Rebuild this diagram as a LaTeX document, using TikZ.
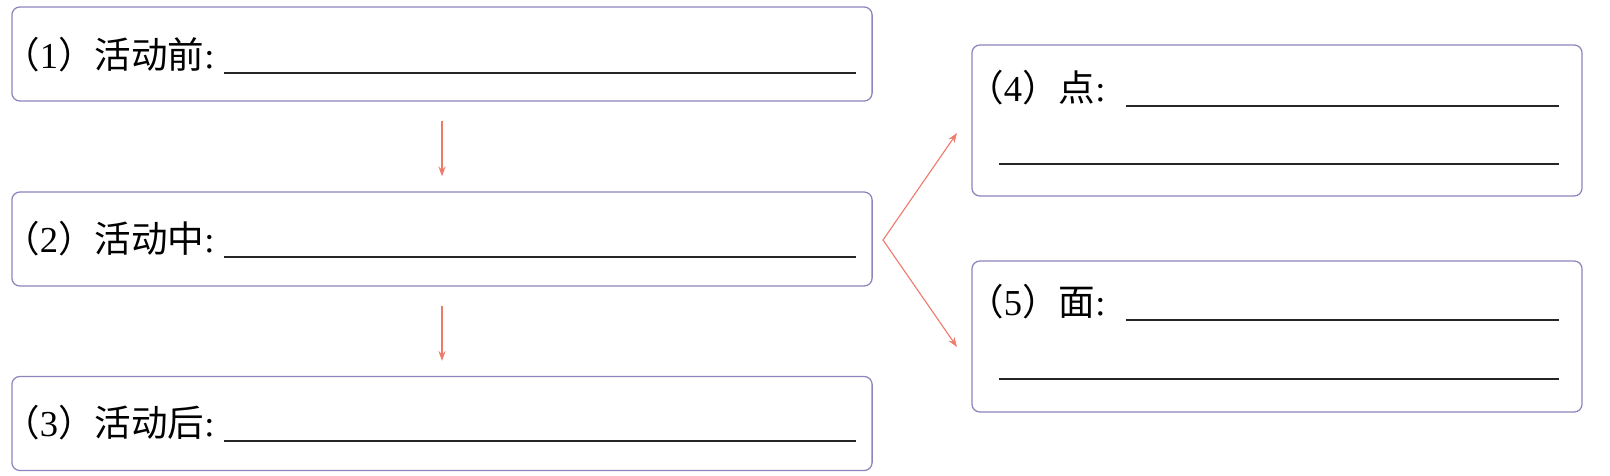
\documentclass[tikz,border=0pt]{standalone}
\usepackage{fontspec}
\setmainfont{Liberation Serif}
\newfontfamily\cjk{Noto Sans CJK SC}
\usetikzlibrary{arrows.meta,positioning,calc}
\definecolor{panelline}{HTML}{8C86BE}
\definecolor{flowred}{HTML}{EE7B6A}
\tikzset{panel/.style={draw=panelline, line width=0.9pt, rounded corners=0.2cm, inner sep=0pt},
  lbl/.style={anchor=base west, inner sep=0pt, font=\fontsize{26}{30}\selectfont},
  blank/.style={draw=black!85, line width=1.1pt},
  flow/.style={draw=flowred, line width=0.8pt}}

\begin{document}
\begin{tikzpicture}[x=0.025cm, y=-0.025cm, >={Stealth[length=7pt,width=5pt]}]
\useasboundingbox (0,0) rectangle (1610,475);
% left column
\node[panel, minimum width=21.5cm, minimum height=2.35cm] (b1) at (442,54) {};
\node[panel, minimum width=21.5cm, minimum height=2.35cm] (b2) at (442,239) {};
\node[panel, minimum width=21.5cm, minimum height=2.35cm] (b3) at (442,423.5) {};
% right column
\node[panel, minimum width=15.25cm, minimum height=3.775cm] (b4) at (1277,120.5) {};
\node[panel, minimum width=15.25cm, minimum height=3.775cm] (b5) at (1277,336.5) {};

\node[lbl] (t1) at (3,68) {\cjk （\rmfamily 1\cjk ）活动前\rmfamily :};
\node[lbl] (t2) at (3,252) {\cjk （\rmfamily 2\cjk ）活动中\rmfamily :};
\node[lbl] (t3) at (3,436) {\cjk （\rmfamily 3\cjk ）活动后\rmfamily :};
\node[lbl] (t4) at (967,101) {\cjk （\rmfamily 4\cjk ）点\rmfamily :};
\node[lbl] (t5) at (967,315) {\cjk （\rmfamily 5\cjk ）面\rmfamily :};

\draw[blank] (224,73) -- (856,73);
\draw[blank] (224,257) -- (856,257);
\draw[blank] (224,441) -- (856,441);
\draw[blank] (1126,106) -- (1559,106);
\draw[blank] (999,164) -- (1559,164);
\draw[blank] (1126,320) -- (1559,320);
\draw[blank] (999,379) -- (1559,379);

\draw[flow, ->, shorten <=0.475cm, shorten >=0.375cm] (b1) -- (b2);
\draw[flow, ->, shorten <=0.475cm, shorten >=0.375cm] (b2) -- (b3);

\coordinate (fork) at (883,240);
\coordinate (tip4) at (957,133);
\coordinate (tip5) at (957,347);
\draw[flow, <->] (tip4) -- (fork) -- (tip5);
\end{tikzpicture}
\end{document}
